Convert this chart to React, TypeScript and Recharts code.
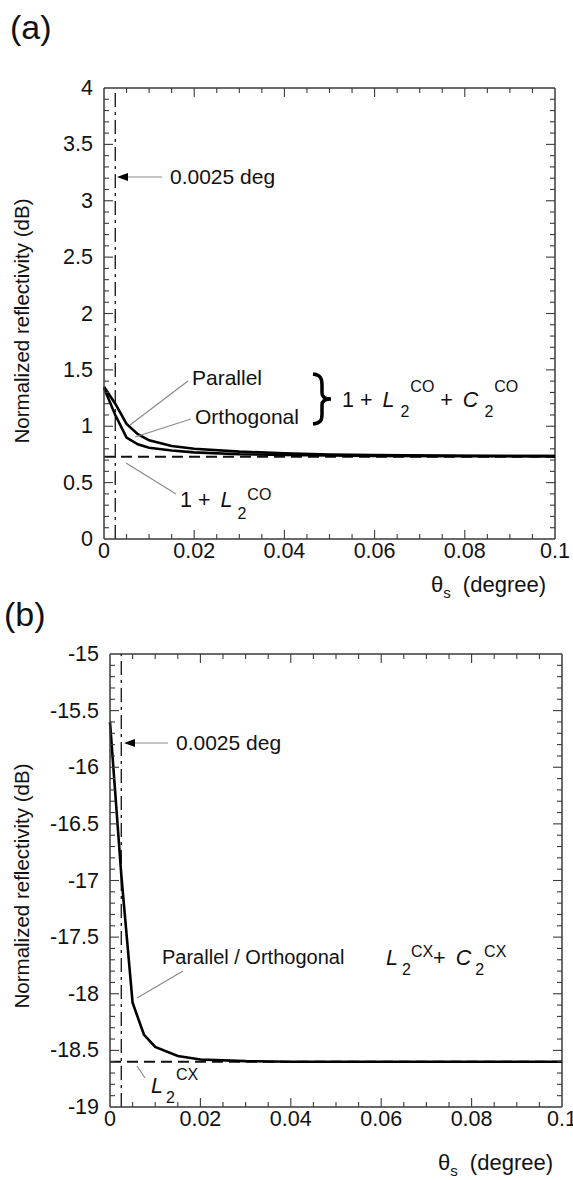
import React from 'react';
import { LineChart, Line, XAxis, YAxis, ReferenceLine } from 'recharts';

// (a) co-polarized
const thetaCo = [0, 0.0025, 0.005, 0.0075, 0.01, 0.015, 0.02, 0.03, 0.04, 0.05, 0.06, 0.08, 0.1];
const parallelCo = [1.35, 1.2, 1.02, 0.93, 0.875, 0.825, 0.8, 0.775, 0.76, 0.75, 0.745, 0.738, 0.735];
const orthogonalCo = [1.34, 1.1, 0.9, 0.84, 0.81, 0.785, 0.768, 0.752, 0.745, 0.74, 0.737, 0.735, 0.735];
const asymptoteCo = 0.73;

// (b) cross-polarized
const thetaCx = [0, 0.0025, 0.005, 0.0075, 0.01, 0.015, 0.02, 0.03, 0.04, 0.06, 0.08, 0.1];
const crossCx = [-15.6, -16.95, -18.08, -18.36, -18.47, -18.55, -18.58, -18.595, -18.6, -18.6, -18.6, -18.6];
const asymptoteCx = -18.6;

const markerTheta = 0.0025;

const xMajor = [0, 0.02, 0.04, 0.06, 0.08, 0.1];
const xLabels = ['0', '0.02', '0.04', '0.06', '0.08', '0.1'];
const yMajorA = [0, 0.5, 1, 1.5, 2, 2.5, 3, 3.5, 4];
const yLabelsA = ['0', '0.5', '1', '1.5', '2', '2.5', '3', '3.5', '4'];
const yMajorB = [-19, -18.5, -18, -17.5, -17, -16.5, -16, -15.5, -15];
const yLabelsB = ['-19', '-18.5', '-18', '-17.5', '-17', '-16.5', '-16', '-15.5', '-15'];

const FONT = '"Liberation Sans", Arial, Helvetica, sans-serif';
const FRAME = '#3a3a3a';
const LEADER = '#8a8a8a';

const withMinors = (majors: number[], n: number) => {
  const out: number[] = [];
  for (let i = 0; i < majors.length - 1; i++) {
    const step = (majors[i + 1] - majors[i]) / n;
    for (let k = 0; k < n; k++) out.push(+(majors[i] + k * step).toFixed(6));
  }
  out.push(majors[majors.length - 1]);
  return out;
};

// inward ticks on the axis and mirrored on the opposite side of the frame (span px away)
const makeTick = (side: 'bottom' | 'left', majors: number[], labels: string[], span: number) =>
  (props: any) => {
    const { x, y, payload } = props;
    const idx = majors.findIndex((m) => Math.abs(m - payload.value) < 1e-7);
    const isEnd = idx === 0 || idx === majors.length - 1;
    const len = idx >= 0 ? 9 : 5;
    let lines = null;
    if (!isEnd) {
      lines = side === 'bottom' ? (
        <>
          <line x1={x} y1={y} x2={x} y2={y - len} />
          <line x1={x} y1={y - span} x2={x} y2={y - span + len} />
        </>
      ) : (
        <>
          <line x1={x} y1={y} x2={x + len} y2={y} />
          <line x1={x + span} y1={y} x2={x + span - len} y2={y} />
        </>
      );
    }
    let label = null;
    if (idx >= 0 && side === 'bottom')
      label = <text x={x} y={y + 19} textAnchor="middle" fontSize={21.5} fill="#111" stroke="none">{labels[idx]}</text>;
    if (idx >= 0 && side === 'left')
      label = <text x={x - 11} y={y + 7} textAnchor="end" fontSize={21.5} fill="#111" stroke="none">{labels[idx]}</text>;
    return (
      <g stroke={FRAME} strokeWidth={1.1} fontFamily={FONT}>
        {lines}
        {label}
      </g>
    );
  };

type PanelProps = {
  width: number;
  height: number;
  margin: { top: number; right: number; bottom: number; left: number };
  data: any[];
  keys: string[];
  yDomain: [number, number];
  yMajor: number[];
  yLabels: string[];
  asymptote: number;
};

function Panel({ width, height, margin, data, keys, yDomain, yMajor, yLabels, asymptote }: PanelProps) {
  const xAxisH = 30;
  const yAxisW = 40;
  const plotW = width - margin.left - margin.right - yAxisW;
  const plotH = height - margin.top - margin.bottom - xAxisH;
  const xTicks = withMinors(xMajor, 4);
  const yTicks = withMinors(yMajor, 5);
  const axisLine = { stroke: FRAME, strokeWidth: 1.5 };
  return (
    <LineChart width={width} height={height} data={data} margin={margin}>
      <XAxis dataKey="theta" type="number" domain={[0, 0.1]} ticks={xTicks} interval={0}
        tick={makeTick('bottom', xMajor, xLabels, plotH)} tickLine={false} tickSize={0} tickMargin={0}
        axisLine={axisLine} height={xAxisH} />
      <YAxis type="number" domain={yDomain} ticks={yTicks} interval={0}
        tick={makeTick('left', yMajor, yLabels, plotW)} tickLine={false} tickSize={0} tickMargin={0}
        axisLine={axisLine} width={yAxisW} />
      <ReferenceLine y={yDomain[1]} stroke={FRAME} strokeWidth={1.5} />
      <ReferenceLine x={0.1} stroke={FRAME} strokeWidth={1.5} />
      <ReferenceLine y={asymptote} stroke="#111" strokeWidth={2} strokeDasharray="11 6" />
      <ReferenceLine x={markerTheta} stroke="#222" strokeWidth={1.4} strokeDasharray="14 5 3 5" />
      {keys.map((k) => (
        <Line key={k} dataKey={k} type="linear" stroke="#000" strokeWidth={2.6} dot={false}
          isAnimationActive={false} />
      ))}
    </LineChart>
  );
}

const dataCo = thetaCo.map((t, i) => ({ theta: t, par: parallelCo[i], orth: orthogonalCo[i] }));
const dataCx = thetaCx.map((t, i) => ({ theta: t, cx: crossCx[i] }));

const Arrow = ({ x1, x2, y }: { x1: number; x2: number; y: number }) => (
  <g>
    <line x1={x1} y1={y} x2={x2 + 9} y2={y} stroke={LEADER} strokeWidth={1.2} />
    <polygon points={`${x2},${y} ${x2 + 11},${y - 4} ${x2 + 11},${y + 4}`} fill="#000" />
  </g>
);

export default function App() {
  const sub = 16;
  return (
    <div style={{ position: 'absolute', left: 0, top: 0, width: 573, height: 1180, background: '#fff' }}>
      <div style={{ position: 'absolute', left: 0, top: 0 }}>
        <Panel width={573} height={600} margin={{ top: 88, right: 18, bottom: 31, left: 64 }}
          data={dataCo} keys={['par', 'orth']} yDomain={[0, 4]} yMajor={yMajorA} yLabels={yLabelsA}
          asymptote={asymptoteCo} />
      </div>
      <div style={{ position: 'absolute', left: 0, top: 600 }}>
        <Panel width={573} height={580} margin={{ top: 54, right: 11, bottom: 43, left: 70 }}
          data={dataCx} keys={['cx']} yDomain={[-19, -15]} yMajor={yMajorB} yLabels={yLabelsB}
          asymptote={asymptoteCx} />
      </div>
      <svg width={573} height={1180} style={{ position: 'absolute', left: 0, top: 0, pointerEvents: 'none' }}
        fontFamily={FONT} fill="#111">
        {/* panel letters */}
        <text x={10} y={39} fontSize={34}>(a)</text>
        <text x={4} y={626} fontSize={34}>(b)</text>

        {/* y titles */}
        <text transform="translate(29,321) rotate(-90)" textAnchor="middle" fontSize={20.5}>Normalized reflectivity (dB)</text>
        <text transform="translate(29,886) rotate(-90)" textAnchor="middle" fontSize={20.5}>Normalized reflectivity (dB)</text>

        {/* x titles */}
        <text x={546} y={592} textAnchor="end" fontSize={22}>
          θ<tspan fontSize={15} dy={6}>s</tspan><tspan dx={12} dy={-6}>(degree)</tspan>
        </text>
        <text x={553} y={1170} textAnchor="end" fontSize={22}>
          θ<tspan fontSize={15} dy={6}>s</tspan><tspan dx={12} dy={-6}>(degree)</tspan>
        </text>

        {/* (a) annotations */}
        <Arrow x1={162} x2={117} y={177} />
        <text x={170} y={184} fontSize={21}>0.0025 deg</text>

        <line x1={188} y1={381} x2={130} y2={425} stroke={LEADER} strokeWidth={1.2} />
        <text x={192} y={385} fontSize={21}>Parallel</text>
        <line x1={191} y1={419} x2={135} y2={437} stroke={LEADER} strokeWidth={1.2} />
        <text x={195} y={424} fontSize={21}>Orthogonal</text>

        <path d="M313,374 C321,375 322,379 322,385 L322,393 C322,397 325,399 331,399 C325,399 322,401 322,405 L322,414 C322,420 321,423 313,424"
          fill="none" stroke="#000" strokeWidth={3.5} />
        <text x={342} y={407} fontSize={21.5}>
          1 + <tspan fontStyle="italic" dx={4}>L</tspan>
          <tspan fontSize={sub} dx={6} dy={10}>2</tspan>
          <tspan fontSize={sub} dx={1} dy={-25}>CO</tspan>
          <tspan dy={15}> + </tspan>
          <tspan fontStyle="italic" dx={4}>C</tspan>
          <tspan fontSize={sub} dx={6} dy={10}>2</tspan>
          <tspan fontSize={sub} dx={1} dy={-25}>CO</tspan>
        </text>

        <line x1={176} y1={494} x2={126} y2={463} stroke={LEADER} strokeWidth={1.2} />
        <text x={180} y={507} fontSize={21.5}>
          1 + <tspan fontStyle="italic" dx={4}>L</tspan>
          <tspan fontSize={sub} dx={5} dy={12}>2</tspan>
          <tspan fontSize={sub} dx={1} dy={-19}>CO</tspan>
        </text>

        {/* (b) annotations */}
        <Arrow x1={168} x2={124} y={743} />
        <text x={176} y={750} fontSize={21}>0.0025 deg</text>

        <line x1={183} y1={971} x2={137} y2={998} stroke={LEADER} strokeWidth={1.2} />
        <text x={162} y={964} fontSize={20}>Parallel / Orthogonal</text>
        <text x={386} y={965} fontSize={21.5}>
          <tspan fontStyle="italic">L</tspan>
          <tspan fontSize={sub} dx={4} dy={10}>2</tspan>
          <tspan fontSize={sub} dx={0} dy={-18}>CX</tspan>
          <tspan dy={8}>+ </tspan>
          <tspan fontStyle="italic" dx={4}>C</tspan>
          <tspan fontSize={sub} dx={4} dy={10}>2</tspan>
          <tspan fontSize={sub} dx={0} dy={-18}>CX</tspan>
        </text>

        <line x1={137} y1={1066} x2={145} y2={1078} stroke={LEADER} strokeWidth={1.2} />
        <text x={151} y={1093} fontSize={21.5}>
          <tspan fontStyle="italic">L</tspan>
          <tspan fontSize={sub} dx={3} dy={10}>2</tspan>
          <tspan fontSize={sub} dx={1} dy={-23}>CX</tspan>
        </text>
      </svg>
    </div>
  );
}
